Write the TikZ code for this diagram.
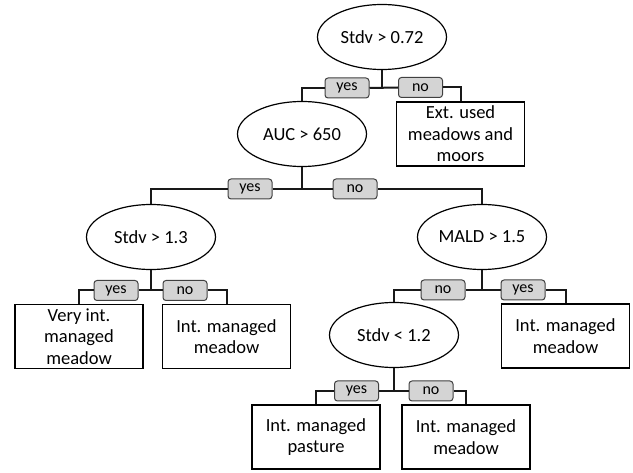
\documentclass[tikz,border=0pt]{standalone}
\usepackage{fontspec}
\setmainfont{Carlito}
\usetikzlibrary{shapes.geometric}

\begin{document}
\begin{tikzpicture}
            [
                x=1pt, y=-1pt,
                every node/.style={font=\fontsize{18.5}{21.5}\selectfont, inner sep=0pt},
                test/.style={ellipse, draw=black, line width=1.2pt, minimum width=129pt, minimum height=65pt},
                leaf/.style={rectangle, draw=black, line width=1.7pt, minimum width=128pt, minimum height=64pt, align=center},
                answer/.style={rectangle, rounded corners=3pt, draw=black!75, fill=black!17, line width=1pt,
                    minimum width=44pt, minimum height=20pt, font=\fontsize{16}{18}\selectfont},
                link/.style={draw=black!90, line width=2pt}
            ]
            \useasboundingbox (0,0) rectangle (633,473);
            \node [test] (root) at (382,37) {Stdv > 0.72};
            \node [test] (auc) at (302,134) {AUC > 650};
            \node [leaf] (ext) at (460.5,134) {Ext. used\\meadows and\\moors};
            \node [test] (stdvA) at (151,237) {Stdv > 1.3};
            \node [test] (mald) at (482,237) {MALD > 1.5};
            \node [leaf] (veryint) at (79,336.5) {Very int.\\managed\\meadow};
            \node [leaf] (intmeadowA) at (226.5,336.5) {Int. managed\\meadow};
            \node [test] (stdvB) at (394,335) {Stdv < 1.2};
            \node [leaf] (intmeadowB) at (565.5,336) {Int. managed\\meadow};
            \node [leaf] (intpasture) at (316,437) {Int. managed\\pasture};
            \node [leaf] (intmeadowC) at (466,437) {Int. managed\\meadow};

            \node [answer] (yesA) at (347,88) {yes};
            \node [answer] (noA) at (420.5,87.5) {no};
            \node [answer] (yesB) at (250,189) {yes};
            \node [answer] (noB) at (355,189) {no};
            \node [answer] (yesC) at (116,290.5) {yes};
            \node [answer] (noC) at (185,290.5) {no};
            \node [answer] (noD) at (443,290) {no};
            \node [answer] (yesD) at (523,290) {yes};
            \node [answer] (yesE) at (356.5,391) {yes};
            \node [answer] (noE) at (431,391) {no};

            \draw [link] (root.south) -- (root.south |- yesA.east);
            \draw [link] (yesA.east) -- (noA.west);
            \draw [link] (yesA.west) -| (auc.north);
            \draw [link] (noA.east) -| (ext.north);

            \draw [link] (auc.south) -- (auc.south |- yesB.east);
            \draw [link] (yesB.east) -- (noB.west);
            \draw [link] (yesB.west) -| (stdvA.north);
            \draw [link] (noB.east) -| (mald.north);

            \draw [link] (stdvA.south) -- (stdvA.south |- yesC.east);
            \draw [link] (yesC.east) -- (noC.west);
            \draw [link] (yesC.west) -| (veryint.north);
            \draw [link] (noC.east) -| (intmeadowA.north);

            \draw [link] (mald.south) -- (mald.south |- noD.east);
            \draw [link] (noD.east) -- (yesD.west);
            \draw [link] (noD.west) -| (stdvB.north);
            \draw [link] (yesD.east) -| (intmeadowB.north);

            \draw [link] (stdvB.south) -- (stdvB.south |- yesE.east);
            \draw [link] (yesE.east) -- (noE.west);
            \draw [link] (yesE.west) -| (intpasture.north);
            \draw [link] (noE.east) -| (intmeadowC.north);
        \end{tikzpicture}
\end{document}
